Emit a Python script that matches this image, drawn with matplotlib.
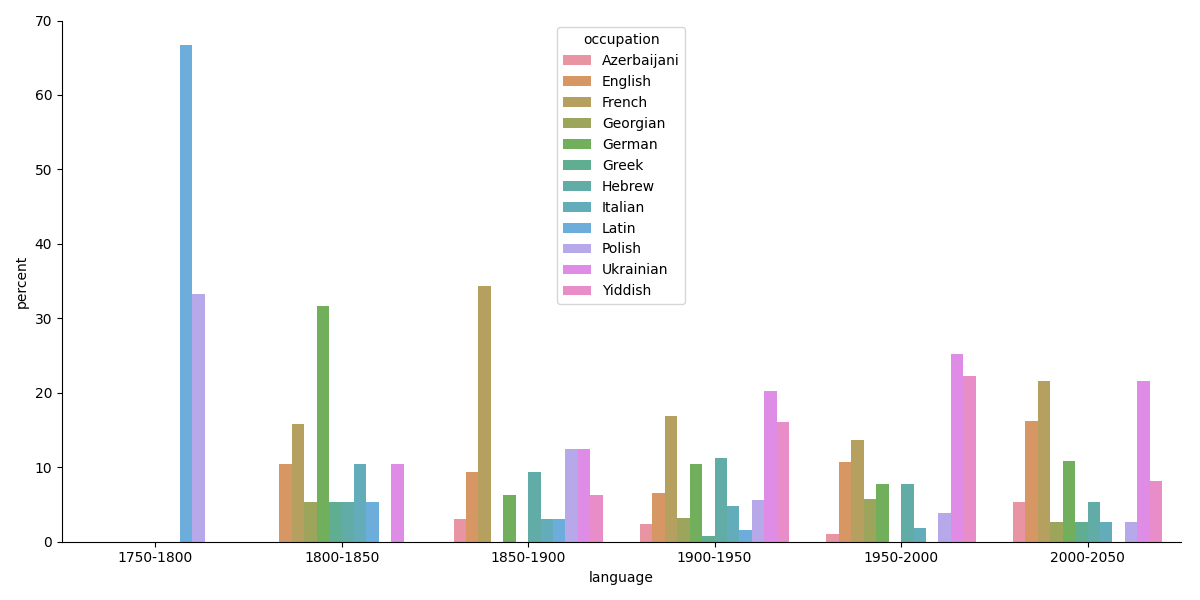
import matplotlib
matplotlib.use("Agg")
import matplotlib.pyplot as plt
import pandas as pd
import seaborn as sns

periods = ["1750-1800", "1800-1850", "1850-1900", "1900-1950", "1950-2000", "2000-2050"]
languages = ["Azerbaijani", "English", "French", "Georgian", "German", "Greek",
             "Hebrew", "Italian", "Latin", "Polish", "Ukrainian", "Yiddish"]

# percent per language, one list per period (same order as languages)
p1750 = [0, 0, 0, 0, 0, 0, 0, 0, 66.7, 33.3, 0, 0]
p1800 = [0, 10.5, 15.8, 5.3, 31.6, 5.3, 5.3, 10.5, 5.3, 0, 10.5, 0]
p1850 = [3.1, 9.4, 34.4, 0, 6.25, 0, 9.4, 3.1, 3.1, 12.5, 12.5, 6.25]
p1900 = [2.4, 6.5, 16.9, 3.2, 10.5, 0.8, 11.3, 4.8, 1.6, 5.6, 20.2, 16.1]
p1950 = [1.0, 10.7, 13.6, 5.8, 7.8, 0, 7.8, 1.9, 0, 3.9, 25.2, 22.3]
p2000 = [5.4, 16.2, 21.6, 2.7, 10.8, 2.7, 5.4, 2.7, 0, 2.7, 21.6, 8.1]

values = [p1750, p1800, p1850, p1900, p1950, p2000]
rows = []
for per, vals in zip(periods, values):
    for lang, v in zip(languages, vals):
        rows.append({"language": per, "occupation": lang, "percent": v})
df = pd.DataFrame(rows)

fig, ax = plt.subplots(figsize=(12, 6), dpi=100)
pal = sns.color_palette("husl", len(languages))
sns.barplot(data=df, x="language", y="percent", hue="occupation",
            hue_order=languages, order=periods, palette=pal,
            saturation=0.75, errorbar=None, alpha=0.85, ax=ax)
ax.set_ylim(0, 70)
ax.legend(title="occupation", loc="upper center")
sns.despine(ax=ax)
fig.tight_layout()
fig.subplots_adjust(right=0.984)
fig.savefig("out.png")
